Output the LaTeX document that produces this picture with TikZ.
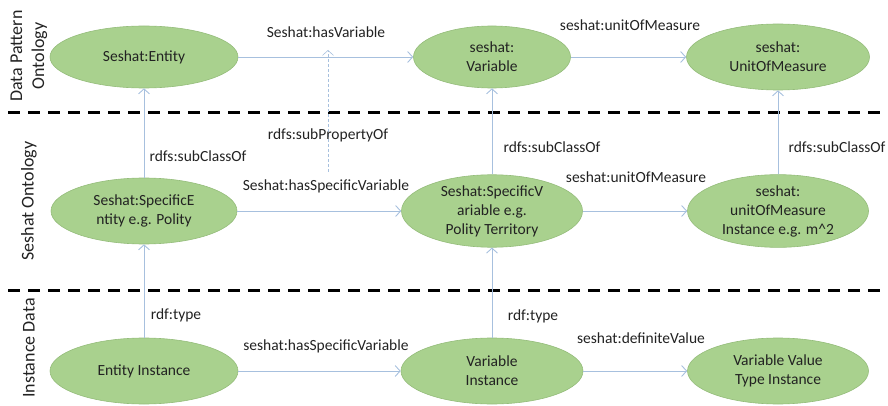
\documentclass[tikz,border=0pt]{standalone}
\usepackage{fontspec}
\setmainfont{Carlito}
\usetikzlibrary{
    shapes,
    arrows.meta,
    positioning
}
\definecolor{ovalgreen}{HTML}{A9D18E}
\definecolor{ovalrim}{HTML}{94BC7A}
\definecolor{linkblue}{HTML}{A7C0DE}
\definecolor{inkgrey}{HTML}{222222}
\tikzset{
    concept/.style={ellipse, draw=ovalrim, fill=ovalgreen, line width=0.6pt, inner sep=0pt,
        minimum height=66pt, align=center, font=\fontsize{15.5}{19}\selectfont, text=inkgrey},
    rel/.style={draw=linkblue, line width=0.9pt, -{Straight Barb[length=5pt,width=11pt]}},
    rellabel/.style={font=\fontsize{15.5}{19}\selectfont, text=inkgrey, inner sep=0pt},
    layer/.style={font=\fontsize{18}{22}\selectfont, text=inkgrey, rotate=90, align=center},
    divider/.style={line width=3pt, dash pattern=on 12pt off 8pt}
}

\begin{document}
\begin{tikzpicture}[x=1pt, y=-1pt]
                        \useasboundingbox (0,0) rectangle (888,406);

                        \node[layer] (lay1) at (29, 56) {Data Pattern\\Ontology};
                        \node[layer] (lay2) at (29, 201) {Seshat Ontology};
                        \node[layer] (lay3) at (29, 348) {Instance Data};

                        \draw[divider] (8, 113) coordinate (d1a) -- (888, 113) coordinate (d1b);
                        \draw[divider] (8, 290) coordinate (d2a) -- (888, 290) coordinate (d2b);

                        \node[concept, minimum width=188pt, minimum height=62pt] (ent) at (144, 57) {Seshat:Entity};
                        \node[concept, minimum width=157pt, minimum height=62pt] (var) at (492, 57) {seshat:\\Variable};
                        \node[concept, minimum width=183pt] (uom) at (778, 57) {seshat:\\UnitOfMeasure};

                        \node[concept, minimum width=186pt] (sent) at (144, 211) {Seshat:SpecificE\\ntity e.g. Polity};
                        \node[concept, minimum width=181pt] (svar) at (492, 211) {Seshat:SpecificV\\ariable e.g.\\Polity Territory};
                        \node[concept, minimum width=181pt] (suom) at (778, 211) {seshat:\\unitOfMeasure\\Instance e.g. m\textasciicircum 2};

                        \node[concept, minimum width=188pt] (ient) at (144, 371) {Entity Instance};
                        \node[concept, minimum width=182pt] (ivar) at (492, 371) {Variable\\Instance};
                        \node[concept, minimum width=181pt] (ival) at (778, 371) {Variable Value\\Type Instance};

                        \coordinate (sp-bot) at (328, 172);
                        \coordinate (sp-top) at (328, 50);

                        \draw
                        (ent) edge[rel] (var)
                        (var) edge[rel] (uom)
                        (sent) edge[rel] (svar)
                        (svar) edge[rel] (suom)
                        (ient) edge[rel] (ivar)
                        (ivar) edge[rel] (ival)
                        (sent) edge[rel] (ent)
                        (svar) edge[rel] (var)
                        (suom) edge[rel] (uom)
                        (ient) edge[rel] (sent)
                        (ivar) edge[rel] (svar)
                        (sp-bot) edge[rel, dash pattern=on 3pt off 2pt, line width=0.6pt] (sp-top);

                        \node[rellabel] (l-hasvar) at (326, 32) {Seshat:hasVariable};
                        \node[rellabel] (l-subprop) at (328, 135) {rdfs:subPropertyOf};
                        \node[rellabel] (l-subcls1) at (198, 156) {rdfs:subClassOf};
                        \node[rellabel] (l-hasspec1) at (326, 186) {Seshat:hasSpecificVariable};
                        \node[rellabel] (l-uom1) at (630, 25) {seshat:unitOfMeasure};
                        \node[rellabel] (l-subcls2) at (552, 147) {rdfs:subClassOf};
                        \node[rellabel] (l-uom2) at (636, 177) {seshat:unitOfMeasure};
                        \node[rellabel] (l-subcls3) at (837, 147) {rdfs:subClassOf};
                        \node[rellabel] (l-type1) at (176, 315) {rdf:type};
                        \node[rellabel] (l-hasspec2) at (326, 346) {seshat:hasSpecificVariable};
                        \node[rellabel] (l-type2) at (533, 316) {rdf:type};
                        \node[rellabel] (l-defval) at (641, 338) {seshat:definiteValue};
                    \end{tikzpicture}
\end{document}
